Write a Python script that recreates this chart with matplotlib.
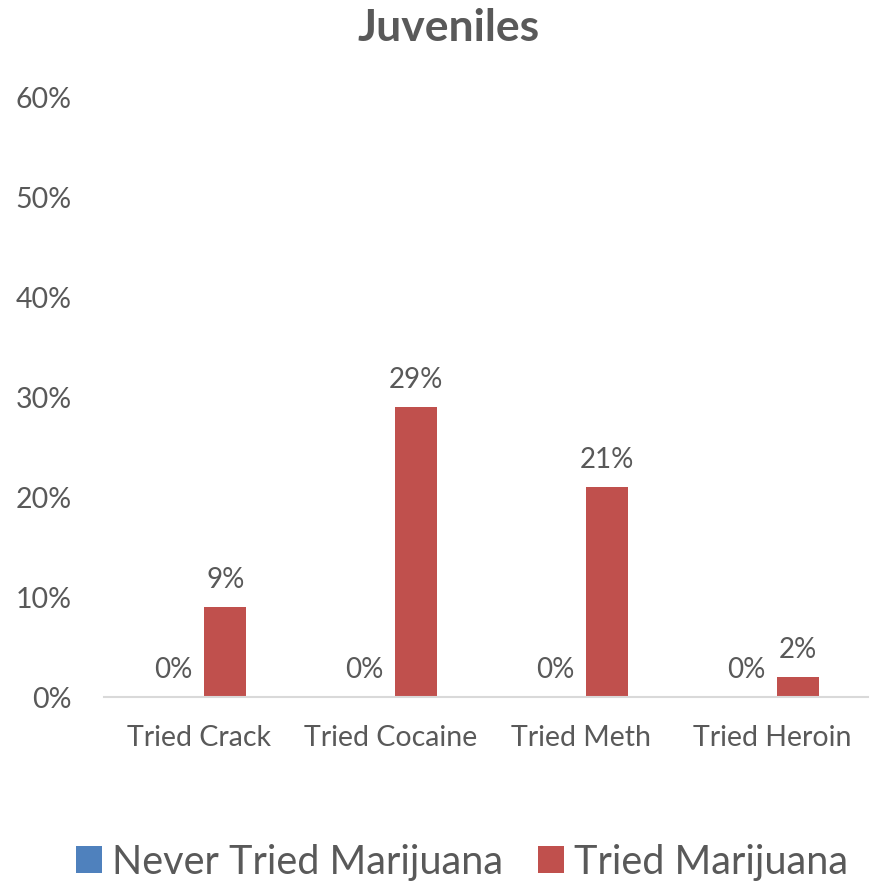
import matplotlib.pyplot as plt
import numpy as np

plt.rcParams['font.family'] = ['Lato', 'DejaVu Sans']

categories = ['Tried Crack', 'Tried Cocaine', 'Tried Meth', 'Tried Heroin']
never_tried = [0, 0, 0, 0]
tried = [9, 29, 21, 2]
series_names = ['Never Tried Marijuana', 'Tried Marijuana']
colors = ['#4F81BD', '#C0504D']
text_color = '#595959'

fig = plt.figure(figsize=(8.72, 8.86), dpi=100)
ax = fig.add_axes([0.119, 0.2133, 0.876, 0.6772])

x = np.arange(len(categories))
w = 0.22
off = 0.136
b1 = ax.bar(x - off, never_tried, w, color=colors[0], label=series_names[0])
b2 = ax.bar(x + off, tried, w, color=colors[1], label=series_names[1])

for bars, vals in [(b1, never_tried), (b2, tried)]:
    for b, v in zip(bars, vals):
        ax.annotate(f'{v}%', (b.get_x() + b.get_width() / 2, v),
                    xytext=(0, 10), textcoords='offset points',
                    ha='center', va='bottom', fontsize=20, color=text_color)

ax.set_xlim(-0.5, 3.5)
ax.set_ylim(0, 60)
ax.set_yticks(range(0, 61, 10))
ax.set_yticklabels([f'{t}%' for t in range(0, 61, 10)])
ax.set_xticks(x)
ax.set_xticklabels(categories)
ax.tick_params(axis='both', length=0, labelsize=20.5, labelcolor=text_color)
ax.tick_params(axis='x', pad=20)
ax.tick_params(axis='y', pad=23)
for s in ['top', 'right', 'left']:
    ax.spines[s].set_visible(False)
ax.spines['bottom'].set_color('#D9D9D9')
ax.spines['bottom'].set_linewidth(1.5)

fig.text(0.514, 0.968, 'Juveniles', fontsize=32, fontweight='bold', color=text_color,
         ha='center', va='center')

fig.legend(loc='center', bbox_to_anchor=(0.53, 0.027), ncol=2, frameon=False,
           fontsize=28.5, handlelength=0.65, handleheight=0.65, handletextpad=0.25,
           columnspacing=0.9, labelcolor=text_color)

fig.savefig('out.png', dpi=100)
